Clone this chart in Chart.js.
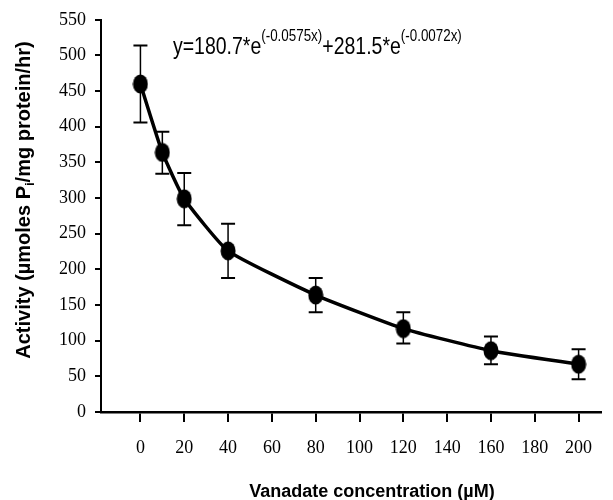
<!DOCTYPE html>
<html><head><meta charset="utf-8">
<script src="https://cdn.jsdelivr.net/npm/chart.js@4/dist/chart.umd.min.js"></script>
<style>html,body{margin:0;padding:0;background:#fff}#wrap{width:613px;height:500px;position:relative}</style>
</head><body><div id="wrap"><canvas id="c"></canvas></div>
<script>
// ---- data ----
const concentrations = [0, 10, 20, 40, 80, 120, 160, 200];
const activity       = [460, 364, 299, 226, 164, 117, 86, 67];
const errorUpper     = [514, 393, 335, 264, 188, 140, 106, 88];
const errorLower     = [406, 334, 262, 188, 140, 96, 67, 46];
const xTickLabels = [0, 20, 40, 60, 80, 100, 120, 140, 160, 180, 200];
const yTickLabels = [0, 50, 100, 150, 200, 250, 300, 350, 400, 450, 500, 550];
const xTitle = 'Vanadate concentration (\u00B5M)';
const yTitleParts = [['Activity (\u00B5moles P', 0], ['i', 1], ['/mg protein/hr)', 0]];
const equationParts = [['y=180.7*e', 0], ['(-0.0575x)', 1], ['+281.5*e', 0], ['(-0.0072x)', 1]];

const SERIF = 'Liberation Serif, Times New Roman, DejaVu Serif, serif';
const SANS = 'Liberation Sans, Arial, sans-serif';

// ellipse marker
const marker = document.createElement('canvas');
marker.width = 16; marker.height = 20;
{ const m = marker.getContext('2d'); m.fillStyle = '#000'; m.beginPath(); m.ellipse(8, 10, 7.5, 9.5, 0, 0, Math.PI * 2); m.fill(); }

const errorBars = {
  id: 'errorBars',
  beforeDatasetsDraw(chart) {
    const { ctx, scales: { x, y } } = chart;
    ctx.save();
    ctx.strokeStyle = '#000';
    concentrations.forEach((c, i) => {
      const px = x.getPixelForValue(c);
      const pt = y.getPixelForValue(errorUpper[i]);
      const pb = y.getPixelForValue(errorLower[i]);
      ctx.lineWidth = 1.5;
      ctx.beginPath(); ctx.moveTo(px, pt); ctx.lineTo(px, pb); ctx.stroke();
      ctx.lineWidth = 2;
      ctx.beginPath();
      ctx.moveTo(px - 7, pt); ctx.lineTo(px + 7, pt);
      ctx.moveTo(px - 7, pb); ctx.lineTo(px + 7, pb);
      ctx.stroke();
    });
    ctx.restore();
  }
};

const texts = {
  id: 'texts',
  afterDraw(chart) {
    const ctx = chart.ctx;
    ctx.save();
    ctx.fillStyle = '#000';
    ctx.textBaseline = 'alphabetic';
    // x title
    ctx.font = 'bold 18px ' + SANS;
    ctx.textAlign = 'center';
    ctx.fillText(xTitle, 372, 497);
    // y title (rotated, with subscript)
    ctx.textAlign = 'left';
    const fBig = 'bold 20px ' + SANS;
    const fSub = 'bold 13px ' + SANS;
    let total = 0;
    yTitleParts.forEach(([t, s]) => { ctx.font = s ? fSub : fBig; total += ctx.measureText(t).width; });
    ctx.translate(30, 200);
    ctx.rotate(-Math.PI / 2);
    let cx = -total / 2;
    yTitleParts.forEach(([t, s]) => {
      ctx.font = s ? fSub : fBig;
      ctx.fillText(t, cx, s ? 4 : 0);
      cx += ctx.measureText(t).width;
    });
    ctx.setTransform(1, 0, 0, 1, 0, 0);
    // equation (condensed sans)
    const cond = 0.82;
    let main = 24, sup = 16.5;
    let w = 0;
    equationParts.forEach(([t, s]) => { ctx.font = (s ? sup : main) + 'px ' + SANS; w += ctx.measureText(t).width * cond; });
    const k = 289 / w; main *= k; sup *= k;
    ctx.translate(173, 0);
    ctx.scale(cond, 1);
    let ex = 0;
    equationParts.forEach(([t, s]) => {
      ctx.font = (s ? sup : main).toFixed(2) + 'px ' + SANS;
      ctx.fillText(t, ex, s ? 41 : 54);
      ex += ctx.measureText(t).width;
    });
    ctx.restore();
  }
};

new Chart(document.getElementById('c'), {
  type: 'line',
  data: {
    datasets: [{
      data: concentrations.map((c, i) => ({ x: c, y: activity[i] })),
      borderColor: '#000',
      borderWidth: 3.5,
      pointStyle: marker,
      pointRadius: 9,
      tension: 0.15,
      fill: false
    }]
  },
  options: {
    responsive: true,
    maintainAspectRatio: false,
    animation: false,
    events: [],
    layout: { padding: { left: 0, right: 7, top: 15, bottom: 0 } },
    plugins: { legend: { display: false }, tooltip: { enabled: false } },
    scales: {
      x: {
        type: 'linear', min: -18, max: 210,
        afterBuildTicks: s => { s.ticks = xTickLabels.map(v => ({ value: v })); },
        afterFit: s => { s.height = 88; },
        border: { display: true, color: '#000', width: 2.5 },
        grid: { drawOnChartArea: false, drawTicks: true, tickLength: 10, color: '#000', lineWidth: 2 },
        ticks: { color: '#000', padding: 15, maxRotation: 0, font: { family: SERIF, size: 18 } }
      },
      y: {
        type: 'linear', min: 0, max: 550,
        afterBuildTicks: s => { s.ticks = yTickLabels.map(v => ({ value: v })); },
        afterFit: s => { s.width = 101; },
        border: { display: true, color: '#000', width: 2 },
        grid: { drawOnChartArea: false, drawTicks: true, tickLength: 6, color: '#000', lineWidth: 2 },
        ticks: { color: '#000', padding: 9, font: { family: SERIF, size: 18 } }
      }
    }
  },
  plugins: [errorBars, texts]
});
</script></body></html>
